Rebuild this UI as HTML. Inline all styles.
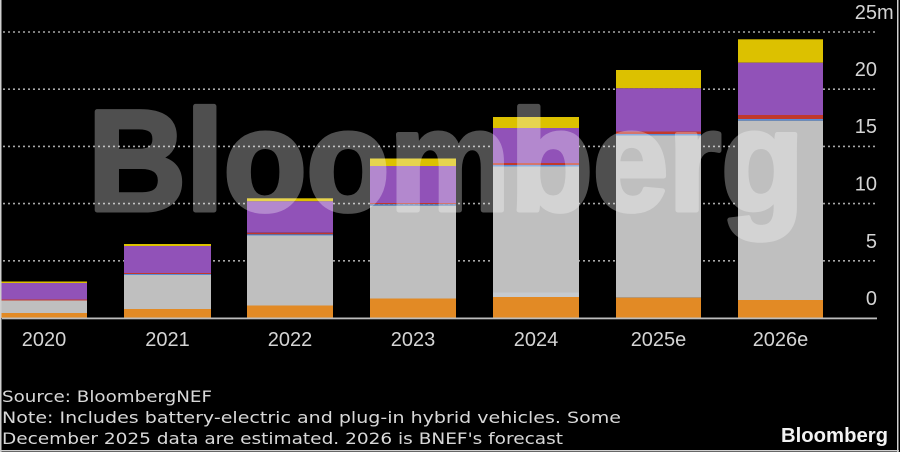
<!DOCTYPE html>
<html><head><meta charset="utf-8"><style>
html,body{margin:0;padding:0;background:#000;}
svg{display:block;}
</style></head><body>
<svg width="900" height="452" viewBox="0 0 900 452" xmlns="http://www.w3.org/2000/svg">
<rect x="0" y="0" width="900" height="452" fill="#000"/>
<!-- gridlines -->
<g stroke="#a8a8a8" stroke-width="1.6" stroke-dasharray="2 3">
<line x1="3" y1="32" x2="877" y2="32"/>
<line x1="3" y1="89.2" x2="877" y2="89.2"/>
<line x1="3" y1="146.4" x2="877" y2="146.4"/>
<line x1="3" y1="203.6" x2="877" y2="203.6"/>
<line x1="3" y1="260.8" x2="877" y2="260.8"/>
</g>
<!-- bars -->
<g>
<!-- 2020 -->
<rect x="1.5" y="281.5" width="85.5" height="1.5" fill="#dcc100"/>
<rect x="1.5" y="283" width="85.5" height="16.5" fill="#9152b8"/>
<rect x="1.5" y="299.5" width="85.5" height="1" fill="#c0392b"/>
<rect x="1.5" y="300.5" width="85.5" height="12.5" fill="#bfbfbf"/>
<rect x="1.5" y="313" width="85.5" height="5" fill="#e28a25"/>
<!-- 2021 -->
<rect x="124" y="244" width="87" height="2" fill="#dcc100"/>
<rect x="124" y="246" width="87" height="27" fill="#9152b8"/>
<rect x="124" y="273" width="87" height="1" fill="#c0392b"/>
<rect x="124" y="274" width="87" height="1" fill="#5b8dd6"/>
<rect x="124" y="275" width="87" height="34" fill="#bfbfbf"/>
<rect x="124" y="309" width="87" height="9" fill="#e28a25"/>
<!-- 2022 -->
<rect x="247" y="198.3" width="86" height="3" fill="#dcc100"/>
<rect x="247" y="201.3" width="86" height="31.5" fill="#9152b8"/>
<rect x="247" y="232.8" width="86" height="1.5" fill="#c0392b"/>
<rect x="247" y="234.3" width="86" height="1.2" fill="#5b8dd6"/>
<rect x="247" y="235.5" width="86" height="70" fill="#bfbfbf"/>
<rect x="247" y="305.5" width="86" height="12.5" fill="#e28a25"/>
<!-- 2023 -->
<rect x="370" y="158.5" width="86" height="7.5" fill="#dcc100"/>
<rect x="370" y="166" width="86" height="37" fill="#9152b8"/>
<rect x="370" y="203" width="86" height="1.2" fill="#c0392b"/>
<rect x="370" y="204.2" width="86" height="1.5" fill="#5b8dd6"/>
<rect x="370" y="205.7" width="86" height="92.8" fill="#bfbfbf"/>
<rect x="370" y="298.5" width="86" height="19.5" fill="#e28a25"/>
<!-- 2024 -->
<rect x="493" y="117" width="86" height="11" fill="#dcc100"/>
<rect x="493" y="128" width="86" height="35" fill="#9152b8"/>
<rect x="493" y="163" width="86" height="2" fill="#c0392b"/>
<rect x="493" y="165" width="86" height="1.5" fill="#5b8dd6"/>
<rect x="493" y="166.5" width="86" height="126" fill="#bfbfbf"/>
<rect x="493" y="292.5" width="86" height="4.5" fill="#c6cacf"/>
<rect x="493" y="297" width="86" height="21" fill="#e28a25"/>
<!-- 2025 -->
<rect x="616" y="70" width="85" height="18.3" fill="#dcc100"/>
<rect x="616" y="88.3" width="85" height="43.2" fill="#9152b8"/>
<rect x="616" y="131.5" width="85" height="2.5" fill="#c0392b"/>
<rect x="616" y="134" width="85" height="1.5" fill="#5b8dd6"/>
<rect x="616" y="135.5" width="85" height="162.2" fill="#bfbfbf"/>
<rect x="616" y="297.7" width="85" height="20.3" fill="#e28a25"/>
<!-- 2026 -->
<rect x="738" y="39.3" width="85" height="23.4" fill="#dcc100"/>
<rect x="738" y="62.7" width="85" height="52.3" fill="#9152b8"/>
<rect x="738" y="115" width="85" height="4" fill="#c0392b"/>
<rect x="738" y="119" width="85" height="1.7" fill="#5b8dd6"/>
<rect x="738" y="120.7" width="85" height="179.3" fill="#bfbfbf"/>
<rect x="738" y="300" width="85" height="18" fill="#e28a25"/>
</g>
<!-- axis -->
<rect x="2" y="317.5" width="875" height="1.8" fill="#bdbdbd"/>
<!-- watermark -->
<g opacity="0.31">
<text x="88" y="210" font-family="Liberation Sans, Arial, sans-serif" font-weight="bold" font-size="143" fill="#ffffff" stroke="#ffffff" stroke-width="5" stroke-linejoin="round" textLength="716" lengthAdjust="spacingAndGlyphs">Bloomberg</text>
</g>
<!-- y labels -->
<g font-family="Liberation Sans, Arial, sans-serif" font-size="20" fill="#d4d4d4" text-anchor="end">
<text x="877" y="19">25</text>
<text x="877" y="76">20</text>
<text x="877" y="133">15</text>
<text x="877" y="190.5">10</text>
<text x="877" y="248">5</text>
<text x="877" y="305">0</text>
</g>
<text x="877" y="19" font-family="Liberation Sans, Arial, sans-serif" font-size="20" fill="#d4d4d4">m</text>
<!-- x labels -->
<g font-family="Liberation Sans, Arial, sans-serif" font-size="20" fill="#d4d4d4" text-anchor="middle">
<text x="44" y="346">2020</text>
<text x="167.5" y="346">2021</text>
<text x="290" y="346">2022</text>
<text x="413" y="346">2023</text>
<text x="536" y="346">2024</text>
<text x="658.5" y="346">2025e</text>
<text x="780.5" y="346">2026e</text>
</g>
<!-- footer -->
<g font-family="DejaVu Sans, Liberation Sans, sans-serif" font-size="16" fill="#d8d8d8">
<text x="2" y="402" textLength="210" lengthAdjust="spacingAndGlyphs">Source: BloombergNEF</text>
<text x="2" y="423" textLength="619" lengthAdjust="spacingAndGlyphs">Note: Includes battery-electric and plug-in hybrid vehicles. Some</text>
<text x="2" y="444" textLength="561" lengthAdjust="spacingAndGlyphs">December 2025 data are estimated. 2026 is BNEF's forecast</text>
</g>
<text x="781" y="442" font-family="Liberation Sans, Arial, sans-serif" font-weight="bold" font-size="20" fill="#f2f2f2" textLength="107" lengthAdjust="spacingAndGlyphs">Bloomberg</text>
<!-- border -->
<rect x="0" y="0" width="1.5" height="452" fill="#cfcfcf"/>
<rect x="897" y="0" width="1.5" height="452" fill="#cfcfcf"/>
<rect x="0" y="450" width="899" height="1.5" fill="#cfcfcf"/>
</svg>
</body></html>
